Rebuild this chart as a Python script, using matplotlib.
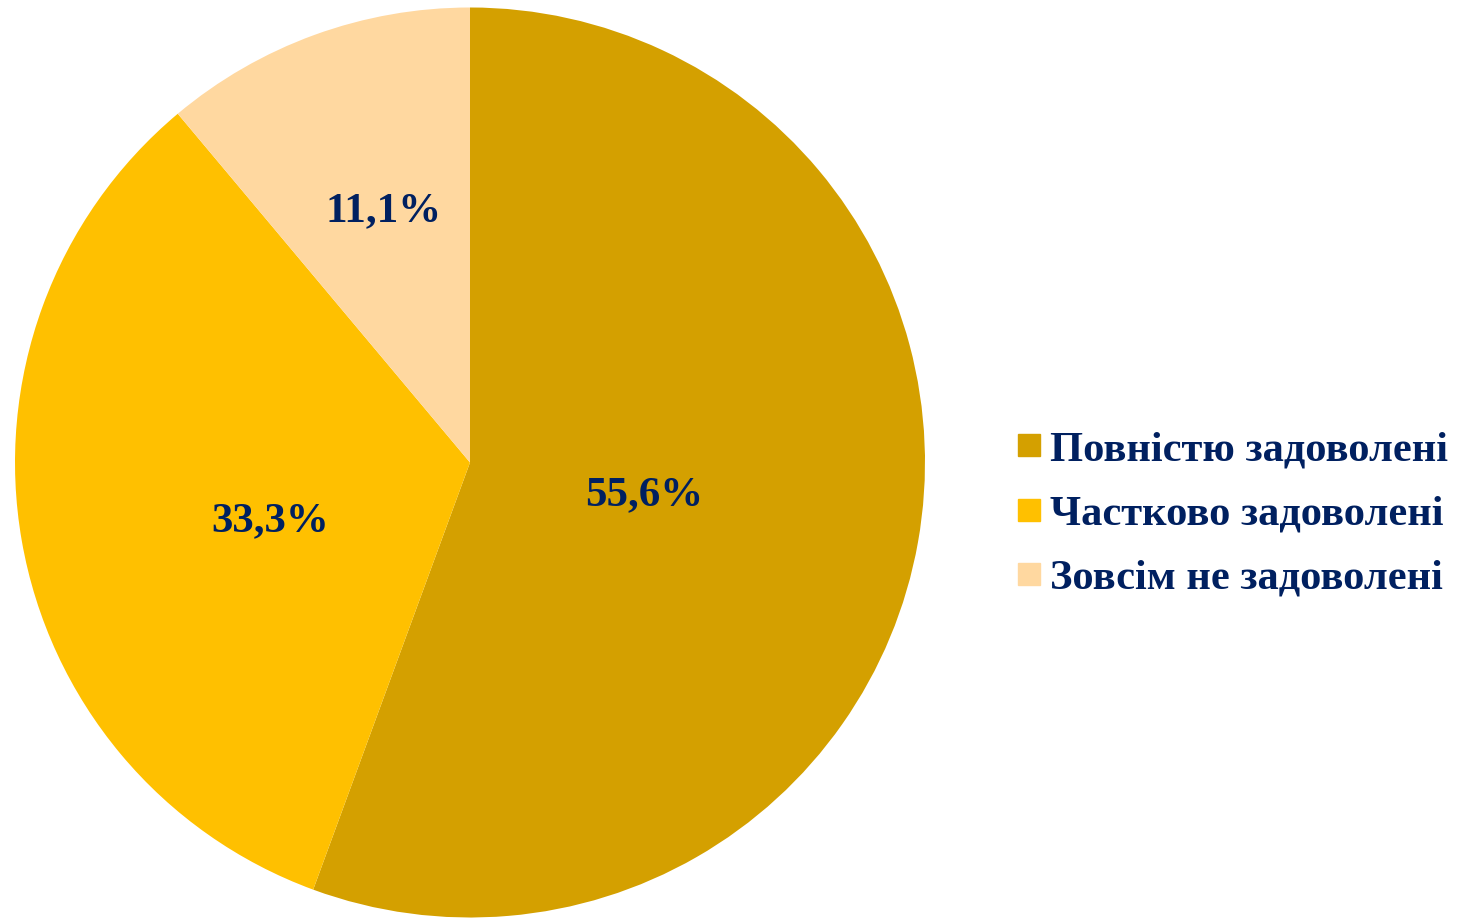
import numpy as np
import matplotlib.pyplot as plt
from matplotlib.lines import Line2D

labels = ['Повністю задоволені', 'Частково задоволені', 'Зовсім не задоволені']
values = [55.6, 33.3, 11.1]
colors = ['#D4A000', '#FFC000', '#FFD8A0']
label_dist = [0.39, 0.458, 0.584]
label_turn = [-0.5, 6.4, -0.9]   # degrees

navy = '#002060'
plt.rcParams['font.family'] = ['Liberation Serif', 'DejaVu Serif']

fig = plt.figure(figsize=(14.58, 9.21), dpi=100)
ax = fig.add_axes([15 / 1458, (921 - 462.5 - 455) / 921, 910 / 1458, 910 / 921])

wedges, texts, autotexts = ax.pie(values, colors=colors, startangle=90, counterclock=False,
                                  radius=1, autopct=lambda p: f'{p:.1f}%'.replace('.', ','),
                                  pctdistance=0.45,
                                  textprops=dict(color=navy, fontsize=31, fontweight='bold'))
for w, t, d, s in zip(wedges, autotexts, label_dist, label_turn):
    ang = np.deg2rad((w.theta1 + w.theta2) / 2 + s)
    t.set_position((d * np.cos(ang), d * np.sin(ang)))

ax.set_xlim(-1, 1)
ax.set_ylim(-1, 1)
ax.set_aspect('equal')

handles = [Line2D([], [], marker='s', linestyle='none', markersize=16,
                  markerfacecolor=c, markeredgecolor=c) for c in colors]
leg = fig.legend(handles, labels, loc='center left', bbox_to_anchor=(1016 / 1458, 1 - 514 / 921),
                 frameon=False, handlelength=0.62, handletextpad=0.18, labelspacing=0.6,
                 borderpad=0, borderaxespad=0,
                 prop=dict(size=30.6, weight='bold'))
for t in leg.get_texts():
    t.set_color(navy)

fig.savefig('out.png', dpi=100)
